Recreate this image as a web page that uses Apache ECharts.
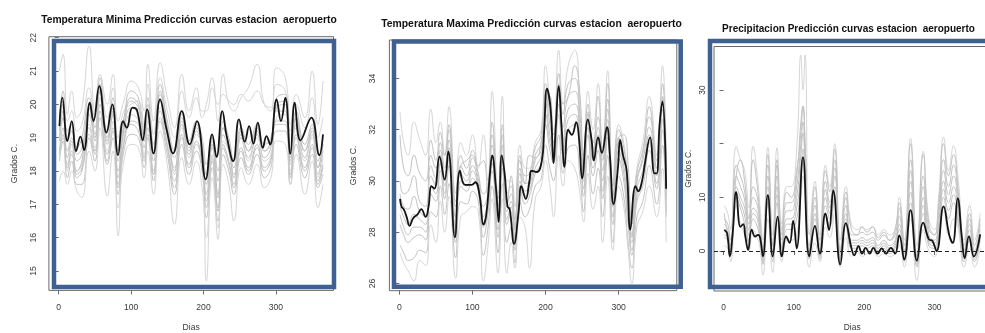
<!DOCTYPE html>
<html>
<head>
<meta charset="utf-8">
<script src="https://cdn.jsdelivr.net/npm/echarts@6/dist/echarts.min.js"></script>
<style>
  html, body { margin: 0; padding: 0; background: #ffffff; }
  #chart { width: 985px; height: 333px; }
</style>
</head>
<body>
<div id="chart"></div>
<script>
// ---- tick values ----
const dayTicks = [0, 100, 200, 300];
const minTicks = [15, 16, 17, 18, 19, 20, 21, 22];
const maxTicks = [26, 28, 30, 32, 34];
const precTicks = [0, 10, 20, 30];
const precTickLabels = [0, 10, 30];

// ---- Temperatura Minima: mean prediction curve ----
const minMeanDays = [1,5,12,18,24,30,35,43,48,56,66,74,82,89,94,102,108,116,122,131,140,149,158,170,181,191,203,212,218,226,232,241,249,257,263,269,275,282,287,292,301,307,313,320,326,334,349,360,365];
const minMean = [19.35,20.2,18.9,19.5,18.6,19.03,18.63,20.05,19.5,20.55,19.15,20.0,18.48,19.5,19.3,19.9,19.83,18.93,19.85,18.53,20.15,19.25,18.53,19.8,18.8,19.5,17.75,19.1,18.42,19.8,19.05,18.3,19.55,18.88,19.35,18.82,19.45,18.7,19.05,18.8,20.15,19.5,20.2,18.52,20.05,18.92,19.6,18.48,19.1];

// ---- Temperatura Minima: individual predicted curves ----
const minGreyDays = [1,6,12,18,25,32,42,50,57,67,75,82,90,100,110,118,123,131,140,150,160,170,180,190,198,204,212,220,227,235,242,252,262,274,284,293,301,313,320,328,340,350,358,365];
const minCurveA = [21.0,21.5,19.7,20.4,19.6,19.9,21.75,19.8,20.9,20.0,20.9,19.5,20.1,20.7,20.5,19.8,21.2,19.5,21.25,20.2,19.3,20.9,19.8,20.5,19.6,20.0,20.8,19.5,20.9,20.0,19.8,20.2,20.5,21.2,20.0,19.8,21.1,20.8,19.4,20.3,19.6,21.0,19.4,20.7];
const minCurveB = [19.6,20.4,19.2,19.4,18.7,19.0,20.2,19.3,20.8,19.2,20.2,18.6,19.6,20.4,20.2,19.1,20.2,18.8,20.6,19.5,18.6,19.7,18.9,19.5,19.0,18.2,19.0,18.0,19.5,19.0,18.3,19.3,18.8,19.4,18.8,19.0,20.2,20.3,18.6,19.8,18.8,19.4,18.3,19.0];
const minCurveC = [19.0,19.8,18.6,19.0,18.3,18.5,19.7,18.9,20.4,18.8,19.7,18.0,19.2,19.9,19.7,18.7,19.7,18.3,20.1,19.1,18.1,19.4,18.5,19.2,18.6,17.6,18.7,17.3,19.1,18.6,17.9,19.0,18.4,19.1,18.4,18.7,19.8,19.8,18.2,19.4,18.4,19.1,17.9,18.6];
const minCurveD = [18.6,19.3,18.2,18.6,17.9,18.1,19.3,18.6,20.0,18.5,19.3,17.6,18.9,19.5,19.4,18.4,19.3,18.0,19.8,18.8,17.7,19.1,18.2,18.9,18.3,17.1,18.4,16.9,18.8,18.3,17.6,18.7,18.1,18.8,18.1,18.4,19.5,19.5,17.9,19.1,18.1,18.8,17.7,18.2];
const minCurveE = [18.3,18.9,17.8,18.3,17.6,17.6,19.0,18.3,19.6,18.2,19.0,17.3,18.6,19.1,19.0,18.1,19.0,17.7,19.5,18.5,17.3,18.8,17.9,18.6,18.0,16.6,18.1,16.5,18.5,18.0,17.3,18.4,17.9,18.5,17.8,18.1,19.2,19.2,17.6,18.8,17.8,18.5,17.5,17.9];
const minCurveF = [17.7,18.0,17.6,18.0,17.4,17.2,18.6,18.0,19.3,17.25,18.6,16.9,18.3,18.8,18.7,17.8,18.6,17.3,19.2,18.2,16.4,18.4,17.6,18.3,17.5,16.0,17.8,16.3,18.2,17.6,16.5,18.1,17.6,18.2,17.5,17.8,18.9,18.8,17.6,18.5,17.3,18.3,16.9,17.6];
const minCurveG = [18.4,19.0,18.0,18.8,18.0,18.2,19.4,18.7,20.2,18.6,19.5,16.05,19.0,19.7,19.5,18.5,19.5,17.9,19.9,19.0,17.9,19.3,18.4,19.1,18.5,14.7,18.5,15.95,18.9,18.6,17.6,19.0,18.3,19.0,18.3,18.5,19.6,19.7,18.0,19.3,18.3,19.0,17.8,18.4];
const minCurveH = [19.3,20.1,19.5,19.8,19.2,19.4,20.5,19.6,20.6,19.6,20.5,19.0,19.8,20.0,20.1,19.3,20.6,19.1,20.8,19.8,19.0,20.4,19.6,20.2,19.8,19.8,20.5,20.0,20.3,20.1,20.0,20.3,20.1,20.4,20.0,19.9,20.6,20.4,19.2,20.0,19.3,20.2,19.0,19.6];
const minCurveI = [18.9,19.6,18.4,18.9,18.0,18.3,19.9,19.0,20.5,18.9,19.8,17.8,19.3,20.1,19.9,18.9,19.8,18.5,20.3,19.3,18.0,19.5,18.6,19.3,18.7,17.3,18.8,17.2,19.3,18.8,17.8,19.1,18.6,19.2,18.6,18.8,19.9,20.0,18.3,19.6,18.6,19.2,18.1,18.8];
const minCurveJ = [18.5,19.1,18.1,18.5,17.8,18.0,19.1,18.5,19.8,18.3,19.2,17.5,18.8,19.4,19.2,18.3,19.1,17.9,19.6,18.7,17.5,19.0,18.1,18.8,18.2,16.9,18.3,16.8,18.7,18.2,17.5,18.6,18.0,18.7,18.0,18.3,19.4,19.4,17.8,19.0,18.0,18.7,17.6,18.1];
const minCurveK = [19.2,20.0,18.9,19.2,18.5,18.7,19.9,19.1,20.6,19.0,19.9,18.3,19.4,20.2,20.0,18.9,20.0,18.6,20.4,19.3,18.4,19.6,18.7,19.4,18.8,17.9,18.9,17.7,19.3,18.8,18.1,19.2,18.6,19.3,18.6,18.9,20.0,20.1,18.4,19.6,18.6,19.3,18.1,18.8];

// ---- Temperatura Maxima: mean prediction curve ----
const maxMeanDays = [1,3,6,10,14,19,25,30,36,40,44,48,55,62,67,76,83,90,99,104,110,115,119,124,127,132,136,140,144,148,151,157,163,167,173,178,181,188,195,198,202,207,211,214,218,222,226,231,236,242,246,250,258,263,266,272,277,284,288,293,299,302,306,311,316,323,327,332,336,343,349,352,356,360,365];
const maxMean = [29.3,29.0,28.9,28.6,28.25,28.55,28.7,28.9,28.6,29.0,29.8,29.7,30.95,30.05,31.15,27.8,30.4,29.85,29.85,29.95,29.4,28.3,28.7,30.3,31.0,29.8,28.4,31.0,30.3,29.0,28.9,27.55,28.75,29.8,29.3,30.0,30.4,30.35,30.8,31.9,33.6,32.8,30.7,32.1,33.7,32.1,30.55,32.0,31.8,32.3,31.6,30.1,32.4,31.6,30.8,31.7,31.1,32.1,31.0,29.1,30.5,31.6,31.0,30.4,28.1,29.8,29.6,30.0,30.7,31.7,30.3,30.3,32.2,33.1,29.7];

// ---- Temperatura Maxima: individual predicted curves ----
const maxGreyDays = [1,6,12,20,28,36,43,50,56,62,68,77,84,92,100,108,115,121,127,135,141,147,153,158,165,172,178,186,194,200,206,211,218,224,231,240,247,252,258,265,272,278,285,292,300,307,313,318,325,333,342,352,360,365];
const maxCurveA = [32.7,31.5,31.0,32.3,31.6,31.0,32.8,31.5,32.3,31.0,32.9,29.5,31.5,31.0,31.8,30.5,31.8,30.0,33.5,29.5,33.3,30.0,30.0,29.0,31.4,30.5,30.5,31.5,32.0,34.5,33.0,32.0,35.1,33.0,34.5,35.1,33.0,31.0,33.5,32.0,33.8,31.0,34.3,30.0,32.2,31.5,30.0,28.5,30.5,31.5,33.3,31.0,34.5,31.0];
const maxCurveB = [30.0,29.5,29.6,30.2,29.2,29.0,31.0,30.5,31.5,30.5,32.0,29.0,31.0,30.5,31.2,30.3,29.5,29.8,31.8,29.0,31.8,29.5,29.8,28.5,30.8,30.2,30.3,31.3,31.8,33.8,32.6,31.8,34.2,32.6,33.8,34.0,32.6,30.7,33.0,31.5,32.5,30.8,33.2,29.8,32.0,31.3,29.8,28.3,30.3,31.2,32.5,30.8,33.8,30.7];
const maxCurveC = [29.0,28.6,28.3,28.7,28.5,28.3,30.2,29.8,31.0,29.8,31.3,28.2,30.3,30.0,30.6,29.9,28.6,29.2,31.0,28.4,31.0,28.8,29.2,27.8,30.3,29.6,29.8,30.8,31.2,33.0,31.8,31.2,33.4,31.6,32.8,33.0,31.8,30.0,32.4,30.8,31.8,30.0,32.4,29.0,31.5,30.6,29.0,27.6,29.7,30.4,31.8,30.2,32.8,30.0];
const maxCurveD = [28.3,27.9,27.6,27.8,27.9,27.7,29.5,29.2,30.4,29.3,30.6,27.6,29.8,29.6,30.1,29.6,27.8,28.7,30.4,27.8,30.5,28.3,28.8,27.3,29.8,29.1,29.4,30.3,30.7,32.2,31.2,30.7,32.6,31.0,32.0,32.2,31.0,29.4,31.8,30.2,31.2,29.3,31.7,28.3,30.9,30.0,28.3,27.1,29.2,29.8,31.2,29.7,32.0,29.3];
const maxCurveE = [27.5,27.2,26.9,27.0,27.3,27.2,28.8,28.6,29.8,28.7,29.9,27.0,29.2,29.1,29.6,29.2,27.1,28.1,29.8,27.2,29.9,27.6,28.2,26.8,29.2,28.6,28.9,29.8,30.1,31.4,30.5,30.0,31.8,30.3,31.3,31.4,30.2,28.8,31.0,29.5,30.5,28.6,31.0,27.6,30.2,29.4,27.6,26.6,28.6,29.2,30.6,29.1,31.4,28.6];
const maxCurveF = [27.2,26.8,26.5,26.1,26.9,26.7,28.3,27.6,29.2,28.0,29.4,26.2,28.6,28.8,29.0,28.8,26.1,27.4,29.3,26.4,29.3,26.4,27.6,26.6,28.6,28.2,26.6,29.3,29.8,30.8,29.8,28.6,31.0,29.8,30.8,30.5,29.5,28.4,30.3,28.9,29.8,27.6,30.2,27.3,29.8,29.0,27.3,26.0,28.2,28.8,29.8,28.6,30.5,27.6];
const maxCurveG = [31.8,30.5,30.2,31.0,30.3,30.0,31.6,30.8,31.9,31.0,32.2,29.2,30.6,30.8,31.0,30.6,30.8,29.4,32.3,29.3,32.2,29.0,30.2,28.2,31.0,29.9,31.0,30.9,31.5,32.8,33.3,31.0,33.6,33.0,33.3,34.5,33.4,30.4,32.6,31.2,33.3,31.3,33.8,29.0,31.7,31.8,30.6,27.8,30.0,31.0,32.9,30.5,33.2,28.8];
const maxCurveH = [29.5,29.0,28.9,29.4,28.8,28.6,30.6,30.1,31.2,30.1,31.6,28.6,30.6,30.2,30.9,30.1,29.0,29.5,31.4,28.7,31.4,29.1,29.5,28.1,30.5,29.9,30.0,31.0,31.5,33.4,32.2,31.5,33.8,32.1,33.3,33.5,32.2,30.3,32.7,31.1,32.1,30.4,32.8,29.4,31.7,31.0,29.4,27.9,30.0,30.8,32.1,30.5,33.3,30.3];
const maxCurveI = [28.7,28.2,27.9,28.2,28.2,28.0,29.8,29.5,30.7,29.5,30.9,27.9,30.0,29.8,30.4,29.7,28.2,28.9,30.7,28.1,30.8,28.5,29.0,27.5,30.0,29.4,29.6,30.5,31.0,32.6,31.5,31.0,33.0,31.3,32.4,32.6,31.4,29.7,32.1,30.5,31.5,29.6,32.0,28.6,31.2,30.3,28.6,27.3,29.4,30.1,31.5,29.9,32.4,29.6];

// ---- Precipitacion: mean prediction curve ----
const precMeanDays = [1,5,9,13,18,24,28,31,35,40,45,49,52,56,63,70,77,83,89,94,99,104,113,122,130,137,145,150,156,166,174,182,186,192,197,202,208,213,219,225,231,238,244,250,257,266,275,284,292,297,303,313,321,326,333,339,343,349,356,365];
const precMean = [3.9,3.3,-1.0,3.3,11.0,4.5,5.0,2.7,0.2,4.0,2.7,3.0,2.5,-1.0,10.4,-1.0,6.4,-1.0,2.7,1.5,5.6,0.5,17.5,-1.0,4.7,-0.5,7.0,3.9,11.3,-2.5,5.2,0.5,-0.8,0.9,-0.5,0.6,-0.5,0.6,-0.5,0.5,-0.5,0.6,-0.5,2.9,-1.6,7.6,-1.8,5.3,2.2,1.9,0.0,8.3,3.0,1.5,9.8,2.5,-1.3,2.7,-1.0,3.1];

// ---- Precipitacion: individual predicted curves ----
const precGreyDays = [1,6,10,18,24,30,36,42,48,52,56,63,70,76,83,90,96,104,110,113,116,122,130,137,145,151,158,166,174,182,190,197,204,212,220,228,236,244,250,257,266,275,284,292,300,306,313,320,327,334,342,350,357,365];
const precCurveA = [8.5,7,4,19.5,17,15,8,19.5,14,8,2,19.3,3,19.2,5,12,12,19,36.5,30,36.5,3,13,3,16,12,20,2,12,5,4,4.5,4,4.5,3,4,3,4,10,2,21,1,18.6,6,4,10,21.2,15,19.6,13,2,8.5,2,7];
const precCurveB = [6,5,2,16,14,11,5,12,10,5,0,16,1,16,3,9,9,14,24,27,20,1,10,1,13,9,17,0,10,3,3,3.5,3,3.5,2,3,2,3,8,0,17,-1,14,4,3,8,17,12,16,10,0,6,0,5];
const precCurveC = [4,3.5,0,12,10,8,3,8,7,3,-1.5,12,-0.5,12,1,6,6,10,18,22,15,-0.5,7,-0.5,10,7,14,-1,7,1.5,1.5,2,1.5,2,0.5,1.5,0.5,1.5,5,-1,13,-2,10,2,1.5,5,13,9,12,7,-1,4,-1,3];
const precCurveD = [2.5,2,-1,10,8,5,1.5,6,4.5,1.5,-2.5,9,-2,9,-0.5,4,4,6,13,17,12,-1.5,4.5,-1.5,7,4.5,10,-2,5,0.5,0.5,1,0.5,1,-0.5,0.5,-0.5,0.5,3,-2,9,-3,7,1,0.5,3,10,6,9,5,-2,2,-2,2];
const precCurveE = [1,0.5,-2,8.5,5,3,0,4,2.5,0.5,-4.5,6,-4,6,-2,2,2,3,10,14,10,-3,1.5,-2,4.5,2.5,7,-3,2.5,-1,0,-1,-0.5,0,-1,-0.5,-1,-0.5,1,-3,6,-5.5,4,0,-1,2,8,3,6,4,-3,0.5,-3,0.5];
const precCurveF = [7,3,1,14,17,13,6,17,12,6,0,18,1,17,4,11,10,15,22,27,20,0,12,2,15,11,19,0,11,4,3,4.5,3.5,4.5,2.5,3.5,2,4,9,1,20,-1,18,5,3,9,20,14,18,11,1,7,1,6];
const precCurveG = [3,2.5,-0.5,11,9,6.5,2,7,6,2,-2,10.5,-1,10.5,0.5,5,5,8,15,19,13,-1,6,-1,8.5,6,12,-1.5,6,1,1,1.5,1,1.5,0,1,0,1,4,-1.5,11,-2.5,8.5,1.5,1,4,11.5,7.5,10.5,6,-1.5,3,-1.5,2.5];
const precCurveH = [5,4,1,14,12,9.5,4,10,8.5,4,-1,14,0,14,2,7.5,7.5,12,20,24,17,0,8.5,0,11.5,8,15.5,-0.5,8.5,2,2,2.5,2,2.5,1,2,1,2,6.5,-0.5,15,-1.5,12,3,2,6.5,15,10.5,14,8.5,-0.5,5,-0.5,4];

// ---- layout and styling ----
const FONT = "'Liberation Sans', Arial, Helvetica, sans-serif";
const TEXT = '#3a3a3a';
const FRAME = '#6a6a6a';
const GREY = '#c2c2c2';
const GREY_LIGHT = '#d6d6d6';
const MEAN = '#151515';
const HIGHLIGHT = '#3e6191';

const panels = [
  {
    title: 'Temperatura Minima Predicción curvas estacion  aeropuerto',
    titleX: 184, titleTop: 10, titleSize: 10.3,
    grid: { left: 48.9, top: 36.7, width: 284.6, height: 253.7 },
    xmin: -13.56, xmax: 379.56, ymin: 14.42, ymax: 22.03,
    yTicks: minTicks, yLabels: minTicks,
    fs: 8.6, yMargin: 11, yNameGap: 30, xName: 'Dias', xNameGap: 33,
    box: { x: 54, y: 41, width: 280, height: 246 },
    meanDays: minMeanDays, mean: minMean,
    greyDays: minGreyDays,
    curves: [minCurveA, minCurveB, minCurveC, minCurveD, minCurveE, minCurveF, minCurveG, minCurveH, minCurveI, minCurveJ, minCurveK],
    light: [true, false, false, false, false, true, true, true, false, false, false]
  },
  {
    title: 'Temperatura Maxima Predicción curvas estacion  aeropuerto',
    titleX: 526.5, titleTop: 14, titleSize: 10.4,
    grid: { left: 389.4, top: 40.06, width: 287.4, height: 250.6 },
    xmin: -13.56, xmax: 379.56, ymin: 25.72, ymax: 35.5,
    yTicks: maxTicks, yLabels: maxTicks,
    fs: 8.7, yMargin: 12.5, yNameGap: 31, xName: '', xNameGap: 33,
    box: { x: 394, y: 41.5, width: 286.7, height: 245.3 },
    meanDays: maxMeanDays, mean: maxMean,
    greyDays: maxGreyDays,
    curves: [maxCurveA, maxCurveB, maxCurveC, maxCurveD, maxCurveE, maxCurveF, maxCurveG, maxCurveH, maxCurveI],
    light: [true, false, false, false, false, true, false, false, false]
  },
  {
    title: 'Precipitacion Predicción curvas estacion  aeropuerto',
    titleX: 843.5, titleTop: 19.5, titleSize: 10.0,
    grid: { left: 714, top: 46.5, width: 276.4, height: 244.5 },
    xmin: -13.56, xmax: 379.56, ymin: -7.45, ymax: 38.1,
    yTicks: precTicks, yLabels: precTickLabels,
    fs: 8.4, yMargin: 7.5, yNameGap: 21.5, xName: 'Dias', xNameGap: 32.5,
    box: { x: 710, y: 41, width: 300, height: 246 },
    meanDays: precMeanDays, mean: precMean,
    greyDays: precGreyDays,
    curves: [precCurveA, precCurveB, precCurveC, precCurveD, precCurveE, precCurveF, precCurveG, precCurveH],
    light: [true, false, false, false, true, false, false, false],
    zeroLine: true
  }
];

const pairs = (days, vals) => days.map((d, i) => [d, vals[i]]);

const option = {
  animation: false,
  backgroundColor: '#ffffff',
  title: [], grid: [], xAxis: [], yAxis: [], series: [], graphic: []
};

panels.forEach((p, i) => {
  option.title.push({
    text: p.title, left: p.titleX, top: p.titleTop, textAlign: 'center',
    textStyle: { fontFamily: FONT, fontSize: p.titleSize, fontWeight: 'bold', color: '#111' }
  });
  // fixed plot rectangles: the grid must not shrink to fit axis names
  option.grid.push(Object.assign({
    show: true, borderColor: FRAME, borderWidth: 1, backgroundColor: '#ffffff',
    containLabel: false, outerBoundsMode: 'none'
  }, p.grid));
  const labelStyle = { fontFamily: FONT, fontSize: p.fs, color: TEXT };
  option.xAxis.push({
    gridIndex: i, type: 'value', min: p.xmin, max: p.xmax,
    axisLine: { show: false }, splitLine: { show: false },
    axisTick: { show: true, inside: false, length: 4, customValues: dayTicks, lineStyle: { color: FRAME, width: 1 } },
    axisLabel: Object.assign({ show: true, margin: 12.5, customValues: dayTicks }, labelStyle),
    name: p.xName, nameLocation: 'middle', nameGap: p.xNameGap,
    nameTextStyle: labelStyle
  });
  option.yAxis.push({
    gridIndex: i, type: 'value', min: p.ymin, max: p.ymax,
    axisLine: { show: false }, splitLine: { show: false },
    axisTick: { show: true, inside: false, length: 4, customValues: p.yTicks, lineStyle: { color: FRAME, width: 1 } },
    axisLabel: Object.assign({ show: true, rotate: 90, margin: p.yMargin, customValues: p.yLabels }, labelStyle),
    name: 'Grados C.', nameLocation: 'middle', nameGap: p.yNameGap, nameRotate: 90,
    nameTextStyle: labelStyle
  });
  p.curves.forEach((vals, k) => {
    option.series.push({
      type: 'line', xAxisIndex: i, yAxisIndex: i, silent: true,
      data: pairs(p.greyDays, vals), smooth: 0.5, symbol: 'none', z: 2,
      lineStyle: { color: p.light[k] ? GREY_LIGHT : GREY, width: 1 }
    });
  });
  const mean = {
    type: 'line', xAxisIndex: i, yAxisIndex: i, silent: true,
    data: pairs(p.meanDays, p.mean), smooth: 0.45, symbol: 'none', z: 4,
    lineStyle: { color: MEAN, width: 1.8 }
  };
  if (p.zeroLine) {
    mean.markLine = {
      silent: true, symbol: 'none', label: { show: false },
      lineStyle: { color: '#222', width: 1, type: [4, 3] },
      data: [{ yAxis: 0 }]
    };
  }
  option.series.push(mean);
  option.graphic.push({
    type: 'rect', z: 100, silent: true,
    shape: p.box,
    style: { fill: 'none', stroke: HIGHLIGHT, lineWidth: 4.5 }
  });
});

const chart = echarts.init(document.getElementById('chart'), null, { renderer: 'canvas' });
chart.setOption(option);
</script>
</body>
</html>
